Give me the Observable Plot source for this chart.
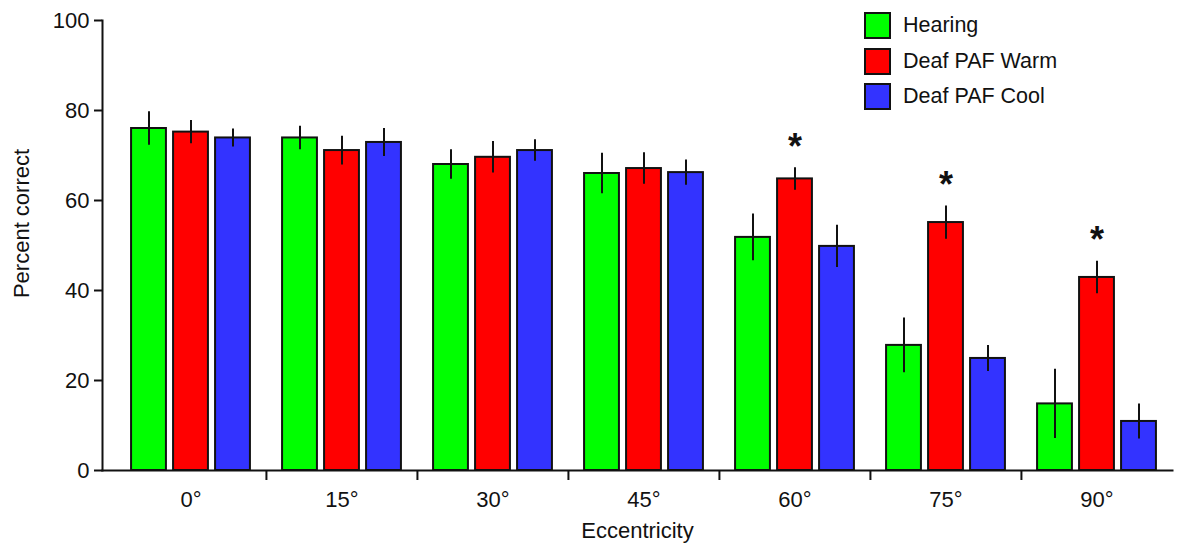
<!DOCTYPE html>
<html>
<head>
<meta charset="utf-8">
<script src="https://cdn.jsdelivr.net/npm/d3@7"></script>
<script src="https://cdn.jsdelivr.net/npm/@observablehq/plot@0.6"></script>
<style>
  html, body { margin: 0; padding: 0; background: #fff; }
  #wrap { position: relative; width: 1182px; height: 545px; font-family: "Liberation Sans", Arial, sans-serif; }
  #legend { position: absolute; left: 864px; top: 8px; }
  .row { display: flex; align-items: center; height: 35.5px; }
  .sw { width: 27px; height: 27px; box-sizing: border-box; border: 2px solid #111; margin-right: 12px; }
  .lab { font-size: 21.5px; color: #111; }
</style>
</head>
<body>
<div id="wrap"></div>
<script>
const categories = ["0°", "15°", "30°", "45°", "60°", "75°", "90°"];
const series = ["Hearing", "Deaf PAF Warm", "Deaf PAF Cool"];
const colors = ["#00ff00", "#ff0000", "#3333ff"];
const hearing = [76.0, 73.9, 68.0, 66.0, 51.8, 27.8, 14.8];
const hearingErr = [3.7, 2.6, 3.3, 4.5, 5.2, 6.1, 7.7];
const warm = [75.2, 71.1, 69.6, 67.1, 64.8, 55.1, 42.9];
const warmErr = [2.6, 3.2, 3.5, 3.5, 2.5, 3.7, 3.6];
const cool = [73.9, 72.9, 71.1, 66.2, 49.8, 24.9, 10.9];
const coolErr = [2.0, 3.1, 2.4, 2.8, 4.7, 2.9, 3.9];
const significant = ["60°", "75°", "90°"];
const yTicks = [0, 20, 40, 60, 80, 100];

const W = 1182, H = 545;
const mL = 102, mR = 10, mT = 20, mB = 75, inL = 12;
const step = (W - mR - mL - inL) / categories.length;
const barW = 35, gap = 42;
const barInset = (step - barW) / 2;
const FS = 22;

const values = [hearing, warm, cool];
const errs = [hearingErr, warmErr, coolErr];
const rows = series.map((s, k) => categories.map((c, i) => ({
  ecc: c, series: s, mean: values[k][i], err: errs[k][i]
})));

const marks = [];
rows.forEach((data, k) => {
  const dx = (k - 1) * gap;
  marks.push(Plot.barY(data, {
    x: "ecc", y: "mean", fill: colors[k], stroke: "#111", strokeWidth: 2,
    insetLeft: barInset, insetRight: barInset, dx
  }));
  marks.push(Plot.ruleX(data, {
    x: "ecc", y1: d => d.mean - d.err, y2: d => d.mean + d.err,
    stroke: "#111", strokeWidth: 2, dx
  }));
});
const starRows = rows[1].filter(d => significant.includes(d.ecc));
marks.push(Plot.text(starRows, {
  x: "ecc", y: d => d.mean + d.err, text: () => "*",
  fontSize: 36, fontWeight: "bold", dy: -9, lineAnchor: "bottom", fill: "#111"
}));
marks.push(Plot.frame({anchor: "left", stroke: "#111", strokeWidth: 2}));
marks.push(Plot.frame({anchor: "bottom", stroke: "#111", strokeWidth: 2}));
marks.push(Plot.axisY({ticks: yTicks, tickSize: 8, tickPadding: 5, label: null, fontSize: FS, stroke: "#111", strokeWidth: 2}));
marks.push(Plot.text(["Percent correct"], {
  frameAnchor: "left", text: d => d, rotate: -90, dx: -81, dy: -22,
  fontSize: FS, textAnchor: "middle", fill: "#111"
}));
marks.push(Plot.axisX({tickSize: 0, tickPadding: 21, label: "Eccentricity", labelAnchor: "center", labelOffset: 67, labelArrow: "none", fontSize: FS}));
marks.push(Plot.axisX(categories.slice(1), {tickSize: 10, text: null, label: null, dx: -step / 2, stroke: "#111", strokeWidth: 2}));

const chart = Plot.plot({
  width: W, height: H,
  marginLeft: mL, marginRight: mR, marginTop: mT, marginBottom: mB,
  style: {fontFamily: "'Liberation Sans', Arial, sans-serif", fontSize: FS + "px", color: "#111", background: "#fff"},
  x: {domain: categories, padding: 0, insetLeft: inL, axis: null},
  y: {domain: [0, 100], axis: null},
  marks
});

const wrap = document.getElementById("wrap");
wrap.appendChild(chart);
const legend = document.createElement("div");
legend.id = "legend";
series.forEach((s, k) => {
  const r = document.createElement("div");
  r.className = "row";
  const sw = document.createElement("div");
  sw.className = "sw";
  sw.style.background = colors[k];
  const t = document.createElement("span");
  t.className = "lab";
  t.textContent = s;
  r.appendChild(sw); r.appendChild(t);
  legend.appendChild(r);
});
wrap.appendChild(legend);
</script>
</body>
</html>
